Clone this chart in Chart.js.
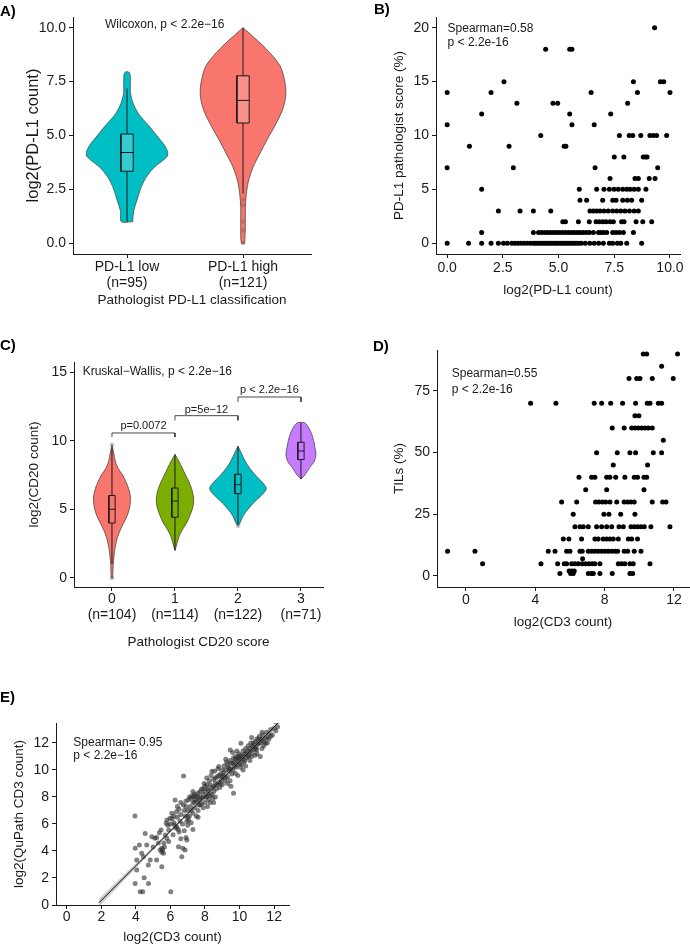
<!DOCTYPE html>
<html>
<head>
<meta charset="utf-8">
<script src="https://cdn.jsdelivr.net/npm/chart.js@4.4.1/dist/chart.umd.min.js"></script>
<style>
  body { margin: 0; background: #fff; width: 690px; height: 945px; position: relative; overflow: hidden; }
  canvas { position: absolute; }
  .tag { position: absolute; font: bold 15px "Liberation Sans", Arial, sans-serif; color: #000; line-height: 16px; }
</style>
</head>
<body>
<canvas id="pA" width="345" height="312" style="left:0;top:0"></canvas>
<canvas id="pB" width="345" height="312" style="left:345px;top:0"></canvas>
<canvas id="pC" width="345" height="348" style="left:0;top:312px"></canvas>
<canvas id="pD" width="345" height="348" style="left:345px;top:312px"></canvas>
<canvas id="pE" width="345" height="285" style="left:0;top:660px"></canvas>
<div class="tag" style="left:0;top:3px">A)</div>
<div class="tag" style="left:374px;top:1px">B)</div>
<div class="tag" style="left:0;top:337px">C)</div>
<div class="tag" style="left:373px;top:338px">D)</div>
<div class="tag" style="left:0;top:689px">E)</div>
<script>
// ---- A) PD-L1 count by pathologist class (violin + box) ----
const aLabels = [['PD-L1 low', '(n=95)'], ['PD-L1 high', '(n=121)']];
const aLowY  = [1.0, 1.5, 2.0, 2.5, 3.0, 3.5, 4.0, 4.2, 4.5, 5.0, 5.5, 6.0, 6.5, 7.0, 7.5, 7.9, 7.97];
const aLowW  = [0.049, 0.057, 0.086, 0.115, 0.158, 0.23, 0.342, 0.351, 0.328, 0.256, 0.18, 0.10, 0.052, 0.029, 0.029, 0.023, 0.0];
const aHighY = [0.0, 0.75, 1.68, 2.31, 2.93, 3.56, 4.18, 4.8, 5.43, 6.21, 6.83, 7.46, 8.24, 9.02, 9.8, 10.0];
const aHighW = [0.014, 0.02, 0.02, 0.029, 0.049, 0.089, 0.147, 0.207, 0.273, 0.342, 0.368, 0.362, 0.319, 0.20, 0.043, 0.0];
// whisker low, q1, median, q3, whisker high
const aBoxes = [[1.0, 3.34, 4.21, 5.07, 7.18], [2.3, 5.58, 6.63, 7.77, 10.0]];
const aOutliers = [[2, 2.0], [2, 1.76], [2, 1.0], [2, 0.6], [2, 0.0]];
const aYTicks = [0, 2.5, 5, 7.5, 10];

// ---- B) PD-L1 count vs pathologist score ----
const pdl1Points = [
  [0,0],[0.96,0],[1.55,0],[1.97,0],[2.3,0],[2.53,0],[2.7,0],[2.9,0],[3.04,0],[3.18,0],[3.32,0],[3.46,0],[3.6,0],[3.74,0],
  [3.88,0],[3.98,0],[4.08,0],[4.18,0],[4.28,0],[4.38,0],[4.48,0],[4.58,0],[4.68,0],[4.78,0],[4.88,0],[4.98,0],[5.08,0],
  [5.18,0],[5.28,0],[5.38,0],[5.48,0],[5.58,0],[5.68,0],[5.78,0],[5.9,0],[6.02,0],[6.2,0],[6.4,0],[6.6,0],[6.8,0],[7.01,0],
  [7.28,0],[7.43,0],[7.64,0],[7.79,0],[8.06,0],[8.73,0],
  [1.55,1],[3.87,1],[4.1,1],[4.24,1],[4.37,1],[4.5,1],[4.64,1],[4.77,1],[4.9,1],[5.04,1],[5.17,1],[5.3,1],[5.44,1],[5.57,1],
  [5.7,1],[5.84,1],[5.97,1],[6.1,1],[6.24,1],[6.38,1],[6.56,1],[6.79,1],[6.89,1],[7.01,1],[7.16,1],[7.43,1],[7.58,1],[7.73,1],
  [7.91,1],[8.36,1],
  [5.19,2],[5.31,2],[5.89,2],[6.38,2],[6.68,2],[6.83,2],[6.98,2],[7.13,2],[7.31,2],[7.46,2],[7.83,2],[7.94,2],[8.48,2],[8.78,2],[9.18,2],
  [2.3,3],[3.27,3],[3.87,3],[4.65,3],[6.41,3],[6.56,3],[6.71,3],[6.86,3],[7.04,3],[7.23,3],[7.43,3],[7.61,3],[7.79,3],[7.98,3],
  [8.18,3],[8.39,3],[8.58,3],
  [5.96,4],[6.26,4],[6.98,4],[7.43,4],[7.58,4],[7.88,4],[8.09,4],[8.28,4],[8.73,4],
  [1.55,5],[5.93,5],[6.71,5],[7.04,5],[7.28,5],[7.49,5],[7.68,5],[7.88,5],[8.06,5],[8.21,5],[8.39,5],[8.58,5],[8.92,5],
  [7.31,6],[8.43,6],[8.58,6],[9.07,6],[9.33,6],
  [0,7],[2.97,7],[6.64,7],[9.45,7],
  [7.5,8],[7.93,8],[8.8,8],[8.9,8],[8.97,8],
  [1.0,9],[2.78,9],[5.25,9],[5.33,9],
  [4.2,10],[7.73,10],[8.17,10],[8.33,10],[8.69,10],[9.1,10],[9.25,10],[9.4,10],[9.85,10],
  [0,11],[5.6,11],[6.6,11],
  [1.55,12],[5.5,12],[7.34,12],
  [3.13,13],[4.75,13],[4.96,13],[8.1,13],
  [0,14],[1.97,14],[6.46,14],[8.54,14],[10.0,14],
  [2.55,15],[8.36,15],[9.57,15],[9.72,15],
  [4.42,18],[5.5,18],[5.6,18],
  [9.31,20]
];
const bXTicks = [0, 2.5, 5, 7.5, 10];
const bYTicks = [0, 5, 10, 15, 20];

// ---- C) CD20 count by pathologist CD20 score ----
const cLabels = [['0', '(n=104)'], ['1', '(n=114)'], ['2', '(n=122)'], ['3', '(n=71)']];
const cColors = ['#F8766D', '#7CAE00', '#00BFC4', '#C77CFF'];
const cViolinY = [
  [0, 1.0, 2.0, 2.5, 3.0, 3.5, 4.0, 4.5, 5.0, 5.5, 6.0, 6.5, 7.0, 7.5, 8.0, 8.5, 9.0, 9.7],
  [2.0, 2.5, 3.0, 3.5, 4.0, 4.5, 5.0, 5.5, 6.0, 6.5, 7.0, 7.5, 8.0, 8.5, 9.0],
  [3.8, 4.0, 4.5, 5.0, 5.5, 6.0, 6.5, 7.0, 7.5, 8.0, 8.5, 9.0, 9.6],
  [7.2, 7.5, 8.0, 8.5, 9.0, 9.5, 10.0, 10.5, 11.0, 11.3]
];
const cViolinW = [
  [0.011, 0.021, 0.042, 0.063, 0.09, 0.132, 0.185, 0.238, 0.275, 0.291, 0.291, 0.265, 0.222, 0.169, 0.095, 0.053, 0.032, 0.0],
  [0.0, 0.032, 0.063, 0.116, 0.185, 0.233, 0.275, 0.296, 0.291, 0.265, 0.222, 0.169, 0.116, 0.063, 0.0],
  [0.0, 0.032, 0.079, 0.159, 0.254, 0.37, 0.45, 0.381, 0.275, 0.185, 0.116, 0.063, 0.0],
  [0.0, 0.063, 0.132, 0.212, 0.238, 0.222, 0.201, 0.169, 0.116, 0.058]
];
const cBoxes = [[1.0, 4.0, 5.0, 6.0, 9.5], [2.0, 4.42, 5.6, 6.55, 9.0], [3.9, 6.14, 6.8, 7.55, 9.6], [7.2, 8.62, 9.25, 9.88, 11.3]];
const cOutliers = [[0, 9.7], [0, 0.0], [2, 3.8]];
const bracketFrom = [0, 1, 2];
const bracketTo = [1, 2, 3];
const bracketTop = [10.56, 11.82, 13.18];
const bracketFoot = [10.27, 11.48, 12.82];
const bracketLabelY = [11.04, 12.2, 13.67];
const bracketText = ['p=0.0072', 'p=5e\u221212', 'p < 2.2e\u221216'];
const cYTicks = [0, 5, 10, 15];

// ---- D) CD3 count vs TILs ----
const tilsPoints = [
  [10.23,90],[10.43,90],[12.21,90],[11.29,85],
  [9.41,80],[9.85,80],[10.04,80],[10.75,80],[11.96,80],
  [3.73,70],[5.19,70],[7.40,70],[7.83,70],[8.35,70],[9.04,70],[9.79,70],[10.46,70],[10.62,70],[11.1,70],[11.29,70],
  [9.75,65],[9.98,65],
  [8.44,60],[9.13,60],[9.56,60],[9.75,60],[9.94,60],[10.14,60],[10.33,60],[10.52,60],[10.75,60],
  [11.39,55],
  [7.54,50],[8.73,50],[9.46,50],[9.79,50],[10.81,50],[11.29,50],
  [8.5,45],[10.48,45],
  [6.52,40],[7.25,40],[7.44,40],[8.12,40],[8.31,40],[8.64,40],[9.17,40],[9.71,40],[9.9,40],[10.27,40],[10.43,40],
  [6.91,35],[8.12,35],[10.27,35],
  [5.52,30],[6.39,30],[7.48,30],[7.67,30],[7.87,30],[8.06,30],[8.31,30],[8.7,30],[9.13,30],[9.33,30],[9.52,30],[9.71,30],
  [10.75,30],[11.35,30],[11.54,30],
  [6.19,25],[7.96,25],[8.25,25],[8.93,25],[9.75,25],
  [6.29,20],[6.58,20],[6.77,20],[7.06,20],[7.54,20],[7.83,20],[8.12,20],[8.41,20],[8.83,20],[9.08,20],[9.52,20],[9.71,20],
  [9.9,20],[10.1,20],[10.29,20],[10.67,20],[11.77,20],
  [5.62,15],[5.94,15],[6.67,15],[7.44,15],[7.63,15],[7.92,15],[8.12,15],[8.31,15],[8.5,15],[8.79,15],[9.37,15],[9.56,15],[9.9,15],
  [-1.06,10],[0.52,10],[4.75,10],[5.14,10],[5.81,10],[6.0,10],[6.58,10],[6.71,10],[7.06,10],[7.25,10],[7.44,10],[7.63,10],
  [7.83,10],[8.02,10],[8.21,10],[8.41,10],[8.6,10],[8.75,10],[9.13,10],[9.33,10],[9.71,10],[10.1,10],
  [6.73,7],
  [0.96,5],[4.33,5],[5.29,5],[5.67,5],[5.81,5],[6.1,5],[6.29,5],[6.48,5],[6.71,5],[6.91,5],[7.11,5],[7.29,5],[7.44,5],[7.73,5],
  [8.79,5],[8.98,5],[9.17,5],[9.46,5],[9.65,5],[10.62,5],
  [5.95,2],[6.1,2],[6.25,2],
  [5.42,1],[6.04,1],[6.19,1],[7.06,1],[7.25,1],[7.35,1],[7.73,1],[8.44,1],[9.46,1],[9.62,1]
];
const dXTicks = [0, 4, 8, 12];
const dYTicks = [0, 25, 50, 75];

// ---- E) CD3 count vs QuPath CD3 count ----
const cd3Points = [
  [3.95,6.59],[3.96,4.2],[4.2,4.44],[4.05,3.33],[4.05,2.6],[3.96,1.6],[4.25,0.99],[4.4,0.99],[4.48,2.02],[4.73,1.6],
  [4.54,5.3],[4.63,4.44],[4.92,5.06],[5.1,4.94],[4.83,3.33],[5.2,3.33],[5.5,2.84],[6.02,0.99],[4.44,3.58],[4.34,3.83],
  [5.6,3.83],[5.5,4.2],[5.7,5.19],[5.9,5.56],[5.8,6.3],[6.08,6.79],[6.27,7.78],[4.72,2.96],[5.36,5.36],[5.46,5.56],
  [5.75,6.05],[5.98,6.42],[5.4,4.07],[5.5,3.9],[5.79,4.94],[5.62,4.6],[5.55,4.1],[5.65,4.3],[5.9,4.7],[6.0,6.0],
  [5.85,5.9],[6.15,5.2],[6.1,6.4],[5.3,4.6],[5.0,4.3],
  [6.2,6.1],[6.3,5.7],[6.35,6.9],[6.4,6.5],[6.45,5.6],[6.5,7.1],[6.55,6.2],[6.6,4.9],[6.6,6.7],[6.66,3.58],[6.72,4.2],
  [6.47,4.32],[6.85,4.07],[6.95,4.81],[6.37,5.8],[6.7,6.0],[6.75,7.4],[6.8,5.5],[6.85,6.6],[6.9,7.7],[6.95,6.2],[7.0,7.0],
  [7.0,5.9],[7.05,7.8],[7.1,6.6],[7.1,8.0],[7.15,7.3],[7.2,6.1],[7.2,7.9],[7.25,8.1],[7.3,7.6],[7.3,6.8],[7.35,8.0],
  [7.4,7.2],[7.4,8.2],[7.45,7.8],[7.5,6.6],[7.5,8.1],[6.76,9.56],[6.5,5.4],[6.25,5.9],[6.9,5.0],[7.05,6.3],[7.3,5.6],
  [7.55,7.7],[7.6,8.3],[7.65,7.4],[7.72,8.4],[7.72,7.4],[7.75,8.0],[7.8,8.6],[7.85,7.9],[7.9,8.2],[7.95,9.0],[8.0,8.4],
  [8.0,7.6],[8.05,8.0],[8.1,8.0],[8.1,8.9],[8.15,7.3],[8.2,8.5],[8.25,9.2],[8.3,8.1],[8.35,9.6],[8.4,8.7],[8.45,7.9],
  [8.5,9.3],[8.5,8.4],[8.55,9.9],[8.6,9.0],[8.65,8.6],[8.7,9.5],[8.75,10.1],[8.8,9.1],[8.8,10.25],[8.85,8.7],[8.9,9.7],
  [8.95,9.3],[9.0,10.0],[9.0,8.9],[7.6,7.0],[7.9,7.2],[8.3,7.6],[8.6,8.0],[8.4,9.9],[8.1,9.4],
  [9.05,9.6],[9.1,10.3],[9.15,9.2],[9.2,10.0],[9.25,10.6],[9.3,9.5],[9.35,10.2],[9.4,9.9],[9.45,10.7],[9.46,11.48],
  [9.5,10.1],[9.55,9.7],[9.6,10.5],[9.65,8.27],[9.65,10.9],[9.7,10.3],[9.75,9.75],[9.75,10.8],[9.8,11.0],[9.85,10.4],
  [9.9,10.7],[9.95,11.2],[10.0,10.5],[10.0,11.0],[10.05,10.2],[10.08,11.98],[10.1,11.1],[10.15,10.8],[10.2,11.4],
  [10.25,10.6],[10.3,11.2],[10.35,11.6],[10.4,10.9],[10.45,11.4],[10.5,11.8],[9.3,9.0],[9.5,8.8],[9.9,9.6],[10.2,10.0],
  [9.2,10.8],[9.6,11.3],
  [10.55,11.1],[10.6,11.6],[10.65,12.0],[10.7,11.3],[10.75,11.8],[10.8,11.73],[10.85,11.5],[10.9,12.1],[10.95,11.7],
  [11.0,12.3],[11.05,11.9],[11.1,12.0],[11.15,12.5],[11.2,11.0],[11.25,12.2],[11.3,11.6],[11.35,12.6],[11.4,12.1],
  [11.5,11.98],[11.5,12.35],[11.55,12.8],[11.6,12.4],[11.7,12.7],[11.8,13.0],[11.9,12.6],[12.07,13.58],[12.2,13.2],
  [11.0,11.2],[10.7,12.4],[11.3,12.8],[10.9,11.1],
  [6.4,7.3],[6.6,7.6],[6.8,7.0],[7.0,6.5],[7.2,7.0],[7.4,7.6],[7.6,8.0],[7.7,7.8],[7.8,7.5],[7.9,8.6],[8.0,8.8],
  [8.2,7.8],[8.2,8.2],[8.3,8.9],[8.4,8.2],[8.5,8.8],[8.6,9.4],[8.7,8.9],[8.8,9.6],[8.9,9.0],[9.0,9.5],[9.1,9.8],
  [9.2,9.4],[9.3,10.4],[9.4,10.1],[9.5,10.5],[9.6,10.0],[9.7,10.6],[9.8,10.2],[9.9,10.9],[10.0,10.8],[10.1,10.4],
  [10.2,11.0],[10.3,10.7],[10.4,11.2],[10.5,11.0],[10.6,11.4],[10.7,11.0],[10.8,12.0],[10.9,11.6],[11.0,11.5],
  [11.1,12.3],[11.2,12.0],[11.3,12.3],[11.4,11.8],[11.6,12.0],[11.7,12.3],[11.8,12.5],[12.0,13.1],[12.1,12.9],
  [7.3,8.4],[6.9,7.3],[8.15,8.6],[9.45,9.2],[10.35,10.3],[9.85,11.4],[10.6,10.7],[6.2,6.6],[5.2,5.0],[7.6,6.5],[8.5,7.6]
];
const fitX = [1.87, 12.31];
const fitY = [0.17, 13.58];
const bandX = [1.87, 3.0, 4.5, 6.0, 8.0, 10.0, 11.5, 12.31];
const bandLow = [-0.15, 1.39, 3.40, 5.39, 7.99, 10.55, 12.43, 13.42];
const bandHigh = [0.49, 1.87, 3.70, 5.57, 8.11, 10.69, 12.67, 13.76];
const eTicks = [0, 2, 4, 6, 8, 10, 12];

// ---- helpers ----
const FONT = '"Liberation Sans", Arial, Helvetica, sans-serif';
const INK = '#1a1a1a';
Chart.defaults.font.family = FONT;
Chart.defaults.color = INK;

const pts = arr => arr.map(([x, y]) => ({ x, y }));

function violinPath(c, ys, ws) {
  const right = ys.map((y, i) => ({ x: c + ws[i], y }));
  const left = ys.map((y, i) => ({ x: c - ws[i], y })).reverse();
  return right.concat(left, [right[0]]);
}

function boxPath(c, hw, lo, hi) {
  return [{ x: c - hw, y: lo }, { x: c + hw, y: lo }, { x: c + hw, y: hi }, { x: c - hw, y: hi }, { x: c - hw, y: lo }];
}

function polygon(data, fillColor, stroke, width, tension, order) {
  return { data, showLine: true, fill: 'shape', backgroundColor: fillColor, borderColor: stroke,
    borderWidth: width, pointRadius: 0, tension, order };
}

function segment(data, color, width, order) {
  return { data, showLine: true, fill: false, borderColor: color, borderWidth: width, pointRadius: 0, tension: 0, order };
}

function dots(data, color, r, order) {
  return { data, showLine: false, backgroundColor: color, pointBackgroundColor: color, pointBorderWidth: 0,
    pointRadius: r, order };
}

// box + whiskers + median for one group
function boxDatasets(c, s, hw, fillColor) {
  return [
    segment([{ x: c, y: s[0] }, { x: c, y: s[4] }], INK, 1, 3),
    polygon(boxPath(c, hw, s[1], s[3]), fillColor, INK, 1, 0, 2),
    segment([{ x: c - hw, y: s[2] }, { x: c + hw, y: s[2] }], INK, 1, 1)
  ];
}

function notesPlugin(items) {
  return {
    id: 'notes',
    afterDatasetsDraw(chart) {
      const { ctx, scales } = chart;
      items.forEach(t => {
        ctx.save();
        ctx.font = (t.size || 12) + 'px ' + FONT;
        ctx.fillStyle = INK;
        ctx.textAlign = t.align || 'left';
        ctx.textBaseline = 'middle';
        ctx.fillText(t.text, scales.x.getPixelForValue(t.x), scales.y.getPixelForValue(t.y));
        ctx.restore();
      });
    }
  };
}

function makeAxis(position, a, size, H) {
  const fs = a.titleSize || 13.5;
  const lh = fs * 1.2;
  const pad = position === 'left' ? { top: a.titleAt - lh / 2 } : { bottom: Math.max(0, H - a.titleAt - lh / 2) };
  return {
    type: 'linear', position, min: a.min, max: a.max,
    border: { display: true, color: INK, width: 1 },
    grid: { drawOnChartArea: false, drawTicks: true, tickLength: 4, tickColor: INK, color: INK, lineWidth: 1 },
    ticks: {
      autoSkip: false, maxRotation: 0, minRotation: 0, padding: a.tickPad, color: INK,
      font: { size: 14, lineHeight: 1.15 },
      callback: (v, i) => a.labels ? a.labels[i] : (a.fmt ? a.fmt(v) : String(v))
    },
    afterBuildTicks: s => { s.ticks = a.ticks.map(v => ({ value: v })); },
    afterFit: s => { if (position === 'left') s.width = size; else s.height = size; },
    title: { display: true, text: a.title, font: { size: fs }, color: INK, padding: pad }
  };
}

function panel(id, area, xAxis, yAxis, datasets, notes) {
  const canvas = document.getElementById(id);
  const W = canvas.width, H = canvas.height;
  return new Chart(canvas, {
    type: 'scatter',
    data: { datasets },
    options: {
      responsive: false, animation: false, events: [],
      layout: { autoPadding: false, padding: { left: 0, top: area.t, right: W - area.r, bottom: 0 } },
      plugins: { legend: { display: false }, tooltip: { enabled: false } },
      scales: {
        x: makeAxis('bottom', xAxis, H - area.b, H),
        y: makeAxis('left', yAxis, area.l, H)
      }
    },
    plugins: [notesPlugin(notes)]
  });
}

// ---- A ----
const aFills = ['#00BFC4', '#F8766D'];
const aBoxFills = ['#33CCD0', '#F9918A'];
const aSets = [
  polygon(violinPath(1, aLowY, aLowW), aFills[0], '#3a3a3a', 0.7, 0.3, 5),
  polygon(violinPath(2, aHighY, aHighW), aFills[1], '#3a3a3a', 0.7, 0.3, 5),
  dots(pts(aOutliers), 'rgba(140,60,60,0.3)', 2.3, 4)
];
aBoxes.forEach((s, i) => aSets.push(...boxDatasets(i + 1, s, 0.053, aBoxFills[i])));
panel('pA', { l: 73, t: 17, r: 311, b: 254 },
  { min: 0.534, max: 2.586, ticks: [1, 2], labels: aLabels, tickPad: 1, title: 'Pathologist PD-L1 classification', titleAt: 300 },
  { min: -0.5, max: 10.5, ticks: aYTicks, fmt: v => v.toFixed(1), tickPad: 3, title: 'log2(PD-L1 count)', titleAt: 33, titleSize: 16.5 },
  aSets,
  [{ text: 'Wilcoxon, p < 2.2e\u221216', x: 0.81, y: 10.16 }]);

// ---- B ----
panel('pB', { l: 91, t: 17, r: 335, b: 254 },
  { min: -0.5, max: 10.45, ticks: bXTicks, fmt: v => v.toFixed(1), tickPad: 2, title: 'log2(PD-L1 count)', titleAt: 290 },
  { min: -1, max: 21, ticks: bYTicks, tickPad: 3, title: 'PD-L1 pathologist score (%)', titleAt: 54 },
  [dots(pts(pdl1Points), '#000', 2.5, 1)],
  [{ text: 'Spearman=0.58', x: 0.02, y: 19.93 }, { text: 'p < 2.2e-16', x: 0.02, y: 18.63 }]);

// ---- C ----
const cSets = [];
cViolinY.forEach((ys, i) => cSets.push(polygon(violinPath(i, ys, cViolinW[i]), cColors[i], '#3a3a3a', 0.7, 0.3, 5)));
cSets.push(dots(pts(cOutliers), 'rgba(90,90,90,0.35)', 2.3, 4));
cBoxes.forEach((s, i) => cSets.push(...boxDatasets(i, s, 0.05, cColors[i])));
bracketFrom.forEach((f, i) => cSets.push(segment([
  { x: f, y: bracketFoot[i] }, { x: f, y: bracketTop[i] }, { x: bracketTo[i], y: bracketTop[i] }, { x: bracketTo[i], y: bracketFoot[i] }
], '#333', 0.9, 1)));
const cNotes = [{ text: 'Kruskal\u2212Wallis, p < 2.2e\u221216', x: -0.465, y: 15.05 }];
bracketFrom.forEach((f, i) => cNotes.push({ text: bracketText[i], x: (f + bracketTo[i]) / 2, y: bracketLabelY[i], align: 'center', size: 11 }));
panel('pC', { l: 74, t: 50, r: 323, b: 275 },
  { min: -0.603, max: 3.35, ticks: [0, 1, 2, 3], labels: cLabels, tickPad: 0, title: 'Pathologist CD20 score', titleAt: 330 },
  { min: -0.66, max: 15.73, ticks: cYTicks, tickPad: 3, title: 'log2(CD20 count)', titleAt: 34 },
  cSets, cNotes);

// ---- D ----
panel('pD', { l: 92, t: 38, r: 344, b: 275 },
  { min: -1.67, max: 12.87, ticks: dXTicks, tickPad: 1, title: 'log2(CD3 count)', titleAt: 310 },
  { min: -4.46, max: 91.6, ticks: dYTicks, tickPad: 3, title: 'TILs (%)', titleAt: 54 },
  [dots(pts(tilsPoints), '#000', 2.5, 1)],
  [{ text: 'Spearman=0.55', x: -0.82, y: 81.9 }, { text: 'p < 2.2e-16', x: -0.82, y: 75.7 }]);

// ---- E ----
const bandPoly = bandX.map((x, i) => ({ x, y: bandHigh[i] }))
  .concat(bandX.map((x, i) => ({ x, y: bandLow[i] })).reverse());
bandPoly.push(bandPoly[0]);
panel('pE', { l: 56, t: 63, r: 289, b: 245 },
  { min: -0.62, max: 12.86, ticks: eTicks, tickPad: 0, title: 'log2(CD3 count)', titleAt: 278 },
  { min: 0, max: 13.48, ticks: eTicks, tickPad: 3, title: 'log2(QuPath CD3 count)', titleAt: 19 },
  [
    dots(pts(cd3Points), 'rgba(45,45,45,0.6)', 2.5, 3),
    polygon(bandPoly, 'rgba(150,150,150,0.45)', 'rgba(0,0,0,0)', 0, 0, 2),
    segment(fitX.map((x, i) => ({ x, y: fitY[i] })), '#000', 1, 1)
  ],
  [{ text: 'Spearman= 0.95', x: 0.38, y: 12.0 }, { text: 'p < 2.2e\u221216', x: 0.38, y: 11.04 }]);
</script>
</body>
</html>
